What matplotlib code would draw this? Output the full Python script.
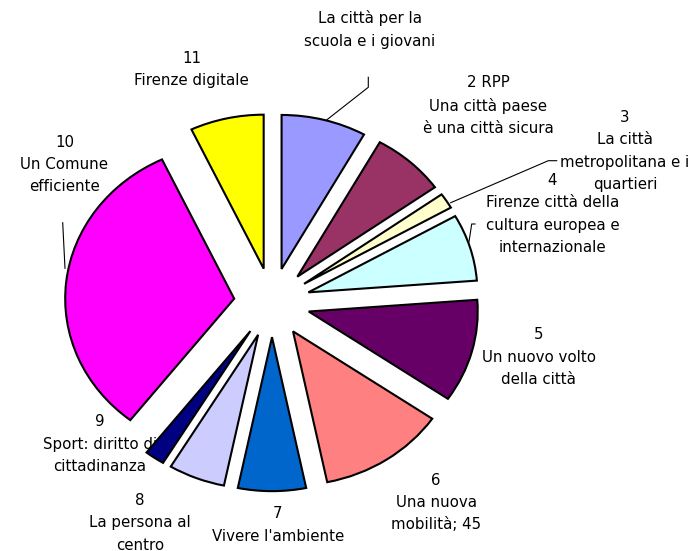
import matplotlib
matplotlib.use("Agg")
import matplotlib.pyplot as plt

# ---- data ----
labels = [
    "La città per la\nscuola e i giovani",
    "2 RPP\nUna città paese\nè una città sicura",
    "3\nLa città\nmetropolitana e i\nquartieri",
    "4\nFirenze città della\ncultura europea e\ninternazionale",
    "5\nUn nuovo volto\ndella città",
    "6\nUna nuova\nmobilità; 45",
    "7\nVivere l'ambiente",
    "8\nLa persona al\ncentro",
    "9\nSport: diritto di\ncittadinanza",
    "10\nUn Comune\nefficiente",
    "11\nFirenze digitale",
]
values = [30, 26, 6, 26, 40, 45, 24, 20, 7, 120, 26]
colors = ["#9999FF", "#993366", "#FFFFCC", "#CCFFFF", "#660066", "#FF8080",
          "#0066CC", "#CCCCFF", "#000080", "#FF00FF", "#FFFF00"]

# ---- layout (pixel positions of label blocks in a 693x551 canvas) ----
W, H = 693, 551
label_pos = [(369.5, 29.5), (488, 105.5), (625, 151), (552.5, 214),
             (538.5, 357), (436, 502.5), (277.7, 525), (140, 523),
             (100, 444.3), (64.5, 164.5), (191.5, 69.5)]
leaders = [
    [(325.7, 120.7), (368.3, 87.3), (368.3, 77.3)],
    [(450.7, 202.7), (548.3, 160.7), (556.7, 160.7)],
    [(469.0, 241.7), (471.7, 224.0), (475.0, 224.0)],
    [(65.0, 268.3), (62.7, 222.7)],
]
cx, cy, rx, ry = 272.0, 302.5, 169.0, 154.0

fig = plt.figure(figsize=(W / 100, H / 100), dpi=100)
ax = fig.add_axes([0, 0, 1, 1])
ax.pie(values, colors=colors, startangle=90, counterclock=False,
       explode=[0.225] * len(values), radius=1.0,
       wedgeprops=dict(edgecolor="black", linewidth=1.5, zorder=3))
ax.set_aspect("auto")
ax.set_xlim(-cx / rx, (W - cx) / rx)
ax.set_ylim(-(H - cy) / ry, cy / ry)
ax.axis("off")

def px(x, y):
    return x / W, 1 - y / H

for lab, (x, y) in zip(labels, label_pos):
    fx, fy = px(x, y)
    ax.text(fx, fy, lab, transform=ax.transAxes, ha="center", va="center",
            multialignment="center", fontsize=10.8, family="DejaVu Sans",
            linespacing=1.62, color="black", zorder=1)

for pts in leaders:
    xs = [px(p[0], p[1])[0] for p in pts]
    ys = [px(p[0], p[1])[1] for p in pts]
    ax.plot(xs, ys, transform=ax.transAxes, color="black", linewidth=0.8,
            zorder=2, clip_on=False)

fig.savefig("out.png", dpi=100)
